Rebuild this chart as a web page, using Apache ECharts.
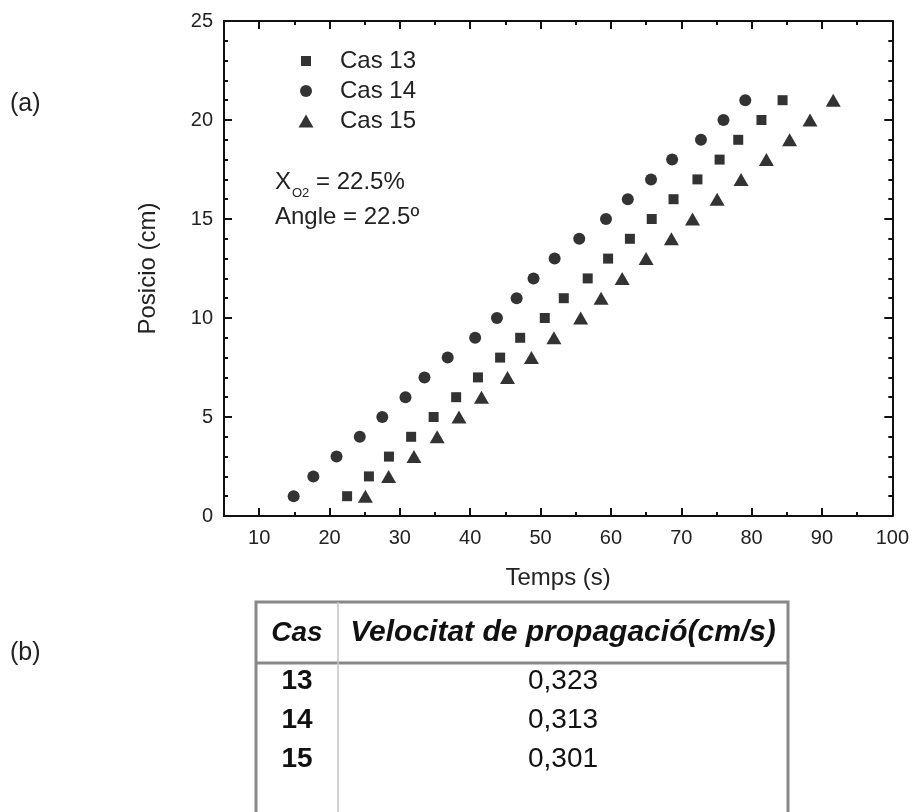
<!DOCTYPE html>
<html>
<head>
<meta charset="utf-8">
<script src="https://cdn.jsdelivr.net/npm/echarts@6/dist/echarts.min.js"></script>
<style>
  html, body { margin: 0; padding: 0; background: #fff; }
  #chart { width: 912px; height: 812px; }
</style>
</head>
<body>
<div id="chart"></div>
<script>
// Flame front position versus time for three runs
const seriesNames = ['Cas 13', 'Cas 14', 'Cas 15'];
const posicio = [1, 2, 3, 4, 5, 6, 7, 8, 9, 10, 11, 12, 13, 14, 15, 16, 17, 18, 19, 20, 21];
const temps13 = [22.5, 25.6, 28.45, 31.6, 34.8, 38.0, 41.1, 44.25, 47.1, 50.6, 53.3, 56.7, 59.6, 62.7, 65.8, 68.9, 72.3, 75.45, 78.1, 81.4, 84.4];
const temps14 = [14.9, 17.7, 21.0, 24.3, 27.5, 30.8, 33.5, 36.8, 40.7, 43.8, 46.6, 49.0, 52.0, 55.5, 59.3, 62.4, 65.7, 68.7, 72.8, 76.0, 79.1];
const temps15 = [25.1, 28.4, 32.0, 35.3, 38.4, 41.6, 45.3, 48.7, 51.9, 55.7, 58.6, 61.6, 65.0, 68.6, 71.6, 75.1, 78.5, 82.1, 85.4, 88.3, 91.6];

// Axis ticks
const tempsMajor = [10, 20, 30, 40, 50, 60, 70, 80, 90, 100];
const tempsMinor = [15, 25, 35, 45, 55, 65, 75, 85, 95];

// Summary table
const tableHeader = ['Cas', 'Velocitat de propagació(cm/s)'];
const tableCas = ['13', '14', '15'];
const tableVel = ['0,323', '0,313', '0,301'];

const FONT = '"Liberation Sans", Arial, sans-serif';
const NARROW = '"Liberation Sans Narrow", "Arial Narrow", "Liberation Sans", sans-serif';
const INK = '#111';
const TEXT = '#222';

function pairs(xs, ys) { return xs.map((x, i) => [x, ys[i]]); }

function xAxisDef(position, ticks, len, withLine, withLabels) {
  return {
    type: 'value', min: 5, max: 100, position: position,
    axisLine: { show: withLine, onZero: false, lineStyle: { color: INK, width: 2 } },
    axisTick: { show: true, inside: true, length: len, customValues: ticks, lineStyle: { color: INK, width: 2 } },
    axisLabel: withLabels
      ? { show: true, customValues: tempsMajor, fontSize: 20, color: TEXT, margin: 12, fontFamily: FONT }
      : { show: false },
    splitLine: { show: false }
  };
}

function yAxisDef(position, withLabels) {
  return {
    type: 'value', min: 0, max: 25, interval: 5, position: position,
    axisLine: { show: true, onZero: false, lineStyle: { color: INK, width: 2 } },
    axisTick: { show: true, inside: true, length: 8, lineStyle: { color: INK, width: 2 } },
    minorTick: { show: true, splitNumber: 5, length: 4, lineStyle: { color: INK, width: 2 } },
    axisLabel: withLabels
      ? { show: true, fontSize: 20, color: TEXT, margin: 11, fontFamily: FONT }
      : { show: false },
    splitLine: { show: false }
  };
}

const xMain = xAxisDef('bottom', tempsMajor, 8, true, true);
xMain.name = 'Temps (s)';
xMain.nameLocation = 'middle';
xMain.nameGap = 50;
xMain.nameTextStyle = { fontSize: 24, color: TEXT, fontFamily: FONT };

const yMain = yAxisDef('left', true);
yMain.name = 'Posicio (cm)';
yMain.nameLocation = 'middle';
yMain.nameGap = 64;
yMain.nameTextStyle = { fontSize: 24, color: TEXT, fontFamily: FONT };

function legendDef(name, top, w, h, pad) {
  return {
    data: [name], orient: 'vertical', left: 306 - w / 2, top: top, padding: 0,
    itemWidth: w, itemHeight: h, selectedMode: false,
    textStyle: { fontSize: 24, color: TEXT, fontFamily: FONT, padding: [0, 0, 0, pad] }
  };
}

// Table geometry
const T = { left: 256, right: 788, top: 602, col: 338, head: 663 };
const rowY = [681, 720, 759];

const graphics = [
  { type: 'text', left: 10, top: 92, style: { text: '(a)', font: '25px ' + FONT, fill: TEXT } },
  { type: 'text', left: 10, top: 641, style: { text: '(b)', font: '25px ' + FONT, fill: TEXT } },
  {
    type: 'text', left: 275, top: 170,
    style: {
      text: '{a|X}{s|O2}{a| = 22.5%}',
      rich: {
        a: { fontSize: 24, fontFamily: FONT, fill: TEXT },
        s: { fontSize: 13, fontFamily: FONT, fill: TEXT, padding: [22, 0, 0, 1] }
      }
    }
  },
  { type: 'text', left: 275, top: 205, style: { text: 'Angle = 22.5º', font: '24px ' + FONT, fill: TEXT } },
  // table frame
  { type: 'rect', shape: { x: T.left, y: T.top, width: T.right - T.left, height: 260 },
    style: { fill: 'none', stroke: '#888', lineWidth: 3 } },
  { type: 'line', shape: { x1: T.left, y1: T.head, x2: T.right, y2: T.head },
    style: { stroke: '#888', lineWidth: 3 } },
  { type: 'line', shape: { x1: T.col, y1: T.top, x2: T.col, y2: 812 },
    style: { stroke: '#c4c4c4', lineWidth: 1.5 } },
  { type: 'text', x: (T.left + T.col) / 2, y: 633,
    style: { text: tableHeader[0], font: 'italic bold 28px ' + NARROW, fill: '#111', align: 'center', verticalAlign: 'middle' } },
  { type: 'text', x: (T.col + T.right) / 2, y: 633,
    style: { text: tableHeader[1], font: 'italic bold 30px ' + NARROW, fill: '#111', align: 'center', verticalAlign: 'middle' } }
];
tableCas.forEach((c, i) => {
  graphics.push({ type: 'text', x: (T.left + T.col) / 2, y: rowY[i],
    style: { text: c, font: 'bold 28px ' + NARROW, fill: '#111', align: 'center', verticalAlign: 'middle' } });
  graphics.push({ type: 'text', x: (T.col + T.right) / 2, y: rowY[i],
    style: { text: tableVel[i], font: '28px ' + NARROW, fill: '#111', align: 'center', verticalAlign: 'middle' } });
});

const option = {
  animation: false,
  backgroundColor: '#fff',
  grid: { left: 224, right: 18, top: 21, bottom: 296, containLabel: false },
  xAxis: [
    xMain,
    xAxisDef('top', tempsMajor, 8, true, false),
    xAxisDef('bottom', tempsMinor, 4, false, false),
    xAxisDef('top', tempsMinor, 4, false, false)
  ],
  yAxis: [yMain, yAxisDef('right', false)],
  legend: [
    legendDef(seriesNames[0], 49, 10, 10, 24),
    legendDef(seriesNames[1], 79, 12, 12, 23),
    legendDef(seriesNames[2], 109, 15, 13, 21.5)
  ],
  series: [
    { name: seriesNames[0], type: 'scatter', symbol: 'rect', symbolSize: 10,
      itemStyle: { color: '#000' }, data: pairs(temps13, posicio) },
    { name: seriesNames[1], type: 'scatter', symbol: 'circle', symbolSize: 12,
      itemStyle: { color: '#000' }, data: pairs(temps14, posicio) },
    { name: seriesNames[2], type: 'scatter', symbol: 'triangle', symbolSize: [15, 13],
      itemStyle: { color: '#000' }, data: pairs(temps15, posicio) }
  ],
  graphic: graphics
};

const chart = echarts.init(document.getElementById('chart'), null, { renderer: 'canvas' });
chart.setOption(option);
</script>
</body>
</html>
